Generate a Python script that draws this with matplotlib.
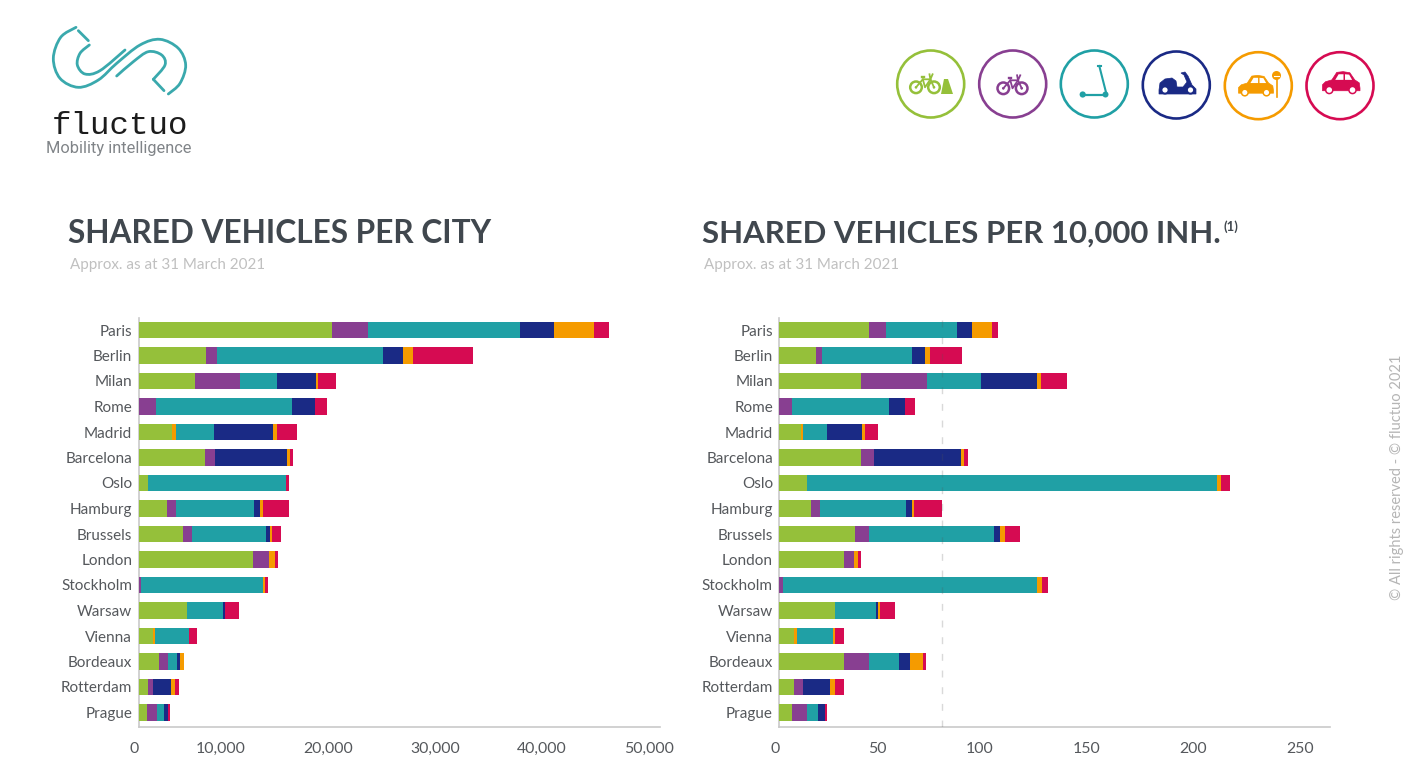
"""Shared vehicles per city, fluctuo style: two stacked bar panels with logo and mode icons."""
import numpy as np
import matplotlib
matplotlib.use("Agg")
import matplotlib.pyplot as plt
from matplotlib.patches import Circle, Polygon, PathPatch
from matplotlib.path import Path
from matplotlib.ticker import FuncFormatter

W, H = 1420, 778

# ── data ──────────────────────────────────────────────────────────────────────
cities = ["Paris", "Berlin", "Milan", "Rome", "Madrid", "Barcelona", "Oslo", "Hamburg",
          "Brussels", "London", "Stockholm", "Warsaw", "Vienna", "Bordeaux", "Rotterdam", "Prague"]

# vehicles per city
city_dock_bike = [18060, 6260, 5270, 0, 3080, 6200, 870, 2680, 4170, 10680, 0, 4480, 1370, 1930, 840, 770]
city_early_orange = [0, 0, 0, 0, 370, 0, 0, 0, 0, 0, 0, 0, 160, 0, 0, 0]
city_bike = [3390, 1030, 4240, 1590, 0, 930, 0, 770, 810, 1490, 220, 0, 0, 770, 530, 930]
city_scooter = [14200, 15510, 3450, 12700, 3580, 0, 12860, 7350, 6950, 0, 11370, 3420, 3150, 870, 0, 630]
city_moped = [3150, 1920, 3580, 2180, 5480, 6730, 0, 530, 340, 0, 0, 160, 0, 280, 1650, 430]
city_station_car = [3740, 900, 250, 0, 430, 250, 0, 310, 190, 530, 220, 0, 0, 430, 340, 0]
city_car = [1400, 5600, 1650, 1090, 1810, 280, 310, 2360, 840, 340, 280, 1280, 780, 0, 400, 130]

# vehicles per 10,000 inhabitants
inh_dock_bike = [42.1, 17.0, 38.0, 0, 10.0, 38.0, 13.1, 14.8, 35.2, 30.1, 0, 26.0, 6.9, 30.1, 7.0, 5.9]
inh_early_orange = [0, 0, 0, 0, 1.2, 0, 0, 0, 0, 0, 0, 0, 1.2, 0, 0, 0]
inh_bike = [7.9, 3.1, 31.2, 5.8, 0, 6.1, 0, 4.2, 6.9, 4.7, 1.9, 0, 0, 12.0, 3.9, 7.0]
inh_scooter = [33.0, 42.1, 25.1, 45.3, 10.9, 0, 191.4, 40.0, 58.1, 0, 118.4, 19.0, 16.8, 14.0, 0, 5.0]
inh_moped = [7.2, 5.8, 25.9, 7.8, 16.7, 41.0, 0, 3.0, 3.0, 0, 0, 1.1, 0, 5.0, 12.9, 3.3]
inh_station_car = [9.0, 2.3, 2.3, 0, 1.4, 1.2, 1.9, 1.1, 2.2, 2.2, 2.5, 1.1, 1.1, 6.1, 2.2, 0]
inh_car = [3.1, 15.0, 12.0, 4.4, 5.9, 2.0, 4.4, 13.1, 7.0, 1.2, 2.8, 7.0, 4.1, 1.2, 4.1, 0.9]

left_ticks = [0, 10000, 20000, 30000, 40000, 50000]
right_ticks = [0, 50, 100, 150, 200, 250]
avg_line = 76.2

# ── colours ───────────────────────────────────────────────────────────────────
GREEN, PURPLE, TEAL = "#95c03a", "#883f91", "#20a0a5"
NAVY, ORANGE, RED = "#1a2a85", "#f59b00", "#d60b52"
TITLE, LABEL, SUB, AXIS = "#40474e", "#55585c", "#c0c0c0", "#c9c9c9"
LOGO = "#3aa9ad"
STACK_COLORS = [GREEN, ORANGE, PURPLE, TEAL, NAVY, ORANGE, RED]

plt.rcParams["font.family"] = ["Lato", "DejaVu Sans"]

fig = plt.figure(figsize=(W / 100, H / 100), dpi=100, facecolor="white")

# overlay in pixel coordinates for logo, icons and headings
bg = fig.add_axes([0, 0, 1, 1])
bg.set_xlim(0, W)
bg.set_ylim(H, 0)
bg.axis("off")


def panel(x0, x1, xmax, axis_end, series, ticks):
    y_top, y_bot = 318, 727
    ax = fig.add_axes([x0 / W, 1 - y_bot / H, (x1 - x0) / W, (y_bot - y_top) / H])
    ypos = np.arange(len(cities))
    left = np.zeros(len(cities))
    for vals, col in zip(series, STACK_COLORS):
        ax.barh(ypos, vals, left=left, height=0.64, color=col, linewidth=0, zorder=3)
        left += np.array(vals, dtype=float)
    ax.set_yticks(ypos)
    ax.set_yticklabels(cities, fontsize=11, color=LABEL)
    ax.set_xticks(ticks)
    ax.set_xlim(0, xmax)
    ax.set_ylim((y_bot - 330) / 25.5, (y_top - 330) / 25.5)
    ax.xaxis.set_major_formatter(FuncFormatter(lambda v, _: f"{int(v):,}"))
    for lab in ax.get_xticklabels():
        lab.set_ha("right")
        lab.set_fontsize(11.4)
        lab.set_color(LABEL)
    ax.tick_params(axis="x", length=0, pad=11)
    ax.tick_params(axis="y", length=0, pad=4.6)
    for s in ("top", "right"):
        ax.spines[s].set_visible(False)
    for s in ("left", "bottom"):
        ax.spines[s].set_color(AXIS)
        ax.spines[s].set_linewidth(1.2)
    ax.spines["bottom"].set_bounds(0, axis_end)
    ax.patch.set_alpha(0)
    return ax


# the last left tick label sits past the end of the axis line
ax_l = panel(138.7, 673.7, 50000, 48720, [city_dock_bike, city_early_orange, city_bike, city_scooter,
                                          city_moped, city_station_car, city_car], left_ticks)
ax_r = panel(779.3, 1330, 257.3, 257.3, [inh_dock_bike, inh_early_orange, inh_bike, inh_scooter,
                                         inh_moped, inh_station_car, inh_car], right_ticks)
ax_r.axvline(avg_line, color="#555555", lw=1, ls=(0, (5, 7)), alpha=0.22, zorder=4)

# ── headings ──────────────────────────────────────────────────────────────────
bg.text(68, 233.5, "SHARED VEHICLES PER CITY", fontsize=22.8, fontweight="bold", color=TITLE, va="center")
bg.text(70, 265, "Approx. as at 31 March 2021", fontsize=10.9, color=SUB, va="center")
bg.text(702, 233.5, "SHARED VEHICLES PER 10,000 INH.", fontsize=22.4, fontweight="bold", color=TITLE, va="center")
bg.text(1224, 227, "(1)", fontsize=9.5, fontweight="bold", color=TITLE, va="center")
bg.text(704, 265, "Approx. as at 31 March 2021", fontsize=10.9, color=SUB, va="center")
bg.text(1397, 477, "© All rights reserved - © fluctuo 2021", fontsize=10.5, color="#b5b5b5",
        rotation=90, ha="center", va="center")


# ── logo ──────────────────────────────────────────────────────────────────────
def smooth(pts, color=LOGO, lw=2.0):
    # Catmull-Rom through the points, as cubic beziers
    p = np.array(pts, dtype=float)
    q = np.vstack([p[0], p, p[-1]])
    verts, codes = [p[0]], [Path.MOVETO]
    for i in range(1, len(q) - 2):
        verts += [q[i] + (q[i + 1] - q[i - 1]) / 6, q[i + 1] - (q[i + 2] - q[i]) / 6, q[i + 1]]
        codes += [Path.CURVE4] * 3
    bg.add_patch(PathPatch(Path(verts, codes), fc="none", ec=color, lw=lw, capstyle="round"))


def zl(pts):
    return [(x / 3, y / 3) for x, y in pts]


smooth(zl([(228, 82), (182, 112), (160, 175), (180, 235), (235, 262), (295, 240), (350, 190),
           (420, 135), (480, 118), (535, 145), (557, 195), (540, 250), (505, 282)]))
smooth(zl([(268, 135), (240, 160), (232, 195), (255, 222), (300, 212), (375, 150)]))
smooth(zl([(350, 228), (400, 185), (445, 155), (485, 165), (495, 195), (460, 238)]))
smooth(zl([(235, 92), (265, 122)]))
smooth(zl([(460, 238), (492, 272)]))
bg.text(120, 125.5, "fluctuo", family="Liberation Mono", fontsize=23.4, color="#1c1c1c", ha="center", va="center")
bg.text(119, 148.5, "Mobility intelligence", family="Roboto", fontsize=11.8, color="#808488", ha="center", va="center")


# ── mode icons ────────────────────────────────────────────────────────────────
def ring(cx, cy, color):
    bg.add_patch(Circle((cx, cy), 33.5, fc="none", ec=color, lw=1.9))


def bike(x1, x2, y, r, color, lw=1.3):
    for x in (x1, x2):
        bg.add_patch(Circle((x, y), r, fc="white", ec=color, lw=lw + 0.5))
        bg.add_patch(Circle((x, y), 1.3, fc=color, ec="none"))
    d = x2 - x1
    bg.plot([x1, x1 + d * 0.38, x1 + d * 0.8, x2], [y, y - 8, y - 8, y], color=color, lw=lw)
    bg.plot([x1 + d * 0.38, x1 + d * 0.5, x1 + d * 0.8], [y - 8, y, y - 8], color=color, lw=lw)
    bg.plot([x1 + d * 0.33, x1 + d * 0.42], [y - 10, y - 10], color=color, lw=lw + 0.4)
    bg.plot([x1 + d * 0.75, x1 + d * 0.8, x1 + d * 0.92], [y - 13, y - 8, y - 13], color=color, lw=lw)


def car(x0, x1, ybase, color):
    # body and roof scaled to the icon width, with white windows and wheels
    w = x1 - x0
    body = [(0, 0.02), (0, -0.14), (0.08, -0.22), (0.25, -0.27), (0.38, -0.47), (0.55, -0.49),
            (0.73, -0.46), (0.86, -0.27), (0.98, -0.19), (1, -0.05), (1, 0.02)]
    bg.add_patch(Polygon([(x0 + a * w, ybase + b * w) for a, b in body], fc=color, ec=color, lw=0.5))
    for win in ([(0.34, -0.27), (0.43, -0.42), (0.56, -0.42), (0.56, -0.27)],
                [(0.6, -0.27), (0.6, -0.42), (0.71, -0.41), (0.79, -0.27)]):
        bg.add_patch(Polygon([(x0 + a * w, ybase + b * w) for a, b in win], fc="white", ec="none"))
    for a in (0.18, 0.8):
        bg.add_patch(Circle((x0 + a * w, ybase), 0.095 * w, fc="white", ec=color, lw=1.1))


ring(930.7, 84, GREEN)
bike(916, 934, 87.3, 5.8, GREEN)
bg.add_patch(Polygon([(944, 79), (948, 79), (953, 94), (941, 94)], fc=GREEN, ec="none"))

ring(1012.7, 84, PURPLE)
bike(1003.3, 1021.7, 88.3, 5.8, PURPLE)

ring(1094.3, 84, TEAL)
bg.plot([1099.3, 1106.3], [66, 93.5], color=TEAL, lw=1.5)
bg.plot([1098, 1101], [66, 66], color=TEAL, lw=1.5)
bg.plot([1083, 1106], [94.5, 94.5], color=TEAL, lw=1.6)
bg.add_patch(Circle((1082.7, 94.5), 3.1, fc=TEAL, ec="none"))
bg.add_patch(Circle((1105.5, 94.5), 3.0, fc=TEAL, ec="none"))

ring(1176.3, 85, NAVY)
moped = [(1159, 90), (1160, 83), (1165, 79), (1172, 78), (1176, 81), (1177, 87), (1183, 87), (1187, 82),
         (1184, 75), (1181, 73), (1185, 72), (1188, 76), (1192, 85), (1196, 89), (1196, 94), (1159, 94)]
bg.add_patch(Polygon(moped, fc=NAVY, ec=NAVY, lw=0.5))
for x in (1165, 1190.5):
    bg.add_patch(Circle((x, 90), 3.6, fc="white", ec=NAVY, lw=1.4))

ring(1258.3, 85.7, ORANGE)
car(1238.5, 1273.5, 92.5, ORANGE)
bg.plot([1276.5, 1276.5], [80, 97], color=ORANGE, lw=1.2)
bg.add_patch(Circle((1276.5, 75.5), 4.5, fc=ORANGE, ec="none"))
bg.plot([1274, 1279], [75.5, 75.5], color="white", lw=0.8)

ring(1340, 85.7, RED)
car(1322.5, 1360, 90, RED)

fig.savefig("out.png", dpi=100, facecolor="white")
